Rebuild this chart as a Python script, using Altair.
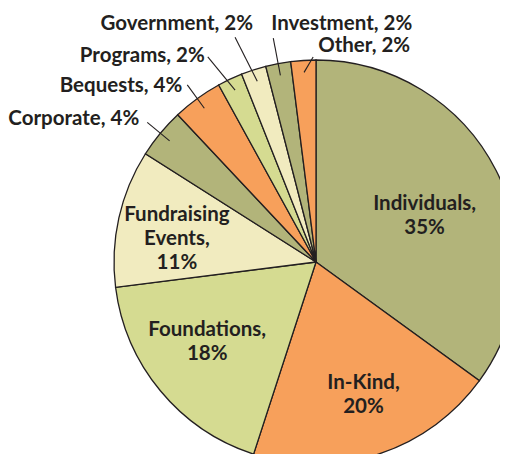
import altair as alt
import pandas as pd

# ---- data ----
categories = ["Individuals", "In-Kind", "Foundations", "Fundraising Events", "Corporate",
              "Bequests", "Programs", "Government", "Investment", "Other"]
values = [35, 20, 18, 11, 4, 4, 2, 2, 2, 2]
labels = ["Individuals,\n35%", "In-Kind,\n20%", "Foundations,\n18%", "Fundraising\nEvents,\n11%",
          "Corporate, 4%", "Bequests, 4%", "Programs, 2%", "Government, 2%", "Investment, 2%", "Other, 2%"]

# ---- style ----
OLIVE, ORANGE, GREEN, CREAM = "#b2b47a", "#f7a05b", "#d5db91", "#f1ebbf"
colors = [OLIVE, ORANGE, GREEN, CREAM, OLIVE, ORANGE, GREEN, CREAM, OLIVE, ORANGE]
INK = "#231f20"
FONT = "Lato"
FS = 20.5
LH = 24
R = 202
CX, CY = 308, 254
W, H = 492, 446

# inner labels: (radius, angle shift in degrees)
inner_layout = {
    "Individuals": (118, 4.0),
    "In-Kind": (141, -1.7),
    "Foundations": (135, 3.3),
    "Fundraising Events": (141, -3.2),
}
# outer labels: (leader end radius, angle shift, label dx, label dy, align)
outer_layout = {
    "Corporate": (219, 0.0, -8, -3, "right"),
    "Bequests": (219, 0.0, -5, 1, "right"),
    "Programs": (232, -2.6, -3, -1, "right"),
    "Government": (239, -1.8, 18, -13, "right"),
    "Investment": (228, 0.0, -2, -14, "left"),
    "Other": (205, 2.8, 5, -11, "left"),
}

rows = []
for i, (c, v, lab) in enumerate(zip(categories, values, labels)):
    row = dict(category=c, value=v, label=lab, order=i)
    if c in inner_layout:
        lr, dth = inner_layout[c]
        row.update(kind="inner", lr=lr, dth=dth, rout=0, ldx=0, ldy=0, align="center")
    else:
        rout, dth, ldx, ldy, al = outer_layout[c]
        row.update(kind="outer", lr=0, dth=dth, rout=rout, ldx=ldx, ldy=ldy, align=al)
    rows.append(row)
df = pd.DataFrame(rows)

xs = alt.Scale(domain=[-CX, W - CX], range=[0, W])
ys = alt.Scale(domain=[-CY, H - CY], reverse=True)

base = alt.Chart(df).transform_window(
    cum="sum(value)", sort=[alt.SortField("order")], frame=[None, 0]
).transform_joinaggregate(
    total="sum(value)"
).transform_calculate(
    mid="(datum.cum - datum.value/2)/datum.total*2*PI",
    a2="(datum.cum - datum.value/2)/datum.total*2*PI + datum.dth*PI/180",
)

arcs = alt.Chart(df).mark_arc(
    radius=R, stroke=INK, strokeWidth=1.3, clip=True
).encode(
    theta=alt.Theta("value:Q", stack=True),
    order=alt.Order("order:Q"),
    color=alt.Color("category:N", scale=alt.Scale(domain=categories, range=colors), legend=None),
    x=alt.value(CX),
    y=alt.value(CY),
)

inner = base.transform_filter("datum.kind == 'inner'").transform_calculate(
    px="datum.lr*sin(datum.a2)",
    py=f"-datum.lr*cos(datum.a2) - (split(datum.label, '\\n').length - 1)*{LH}/2",
).mark_text(
    font=FONT, fontSize=FS, fontWeight="bold", color=INK, lineBreak="\n",
    lineHeight=LH, align="center", baseline="middle"
).encode(
    x=alt.X("px:Q", scale=xs, axis=None),
    y=alt.Y("py:Q", scale=ys, axis=None),
    text="label:N",
)

outer = base.transform_filter("datum.kind == 'outer'").transform_calculate(
    x0="190*sin(datum.mid)", y0="-190*cos(datum.mid)",
    x1="datum.rout*sin(datum.a2)", y1="-datum.rout*cos(datum.a2)",
).transform_calculate(
    tx="datum.x1 + datum.ldx", ty="datum.y1 + datum.ldy"
)

leaders = outer.mark_rule(stroke=INK, strokeWidth=1.1).encode(
    x=alt.X("x0:Q", scale=xs, axis=None),
    y=alt.Y("y0:Q", scale=ys, axis=None),
    x2="x1:Q",
    y2="y1:Q",
)

def outer_text(al):
    return outer.transform_filter(f"datum.align == '{al}'").mark_text(
        font=FONT, fontSize=FS, fontWeight="bold", color=INK, align=al, baseline="middle"
    ).encode(
        x=alt.X("tx:Q", scale=xs, axis=None),
        y=alt.Y("ty:Q", scale=ys, axis=None),
        text="label:N",
    )

chart = alt.layer(arcs, leaders, inner, outer_text("right"), outer_text("left")).properties(
    width=W, height=H, padding=0, autosize=alt.AutoSizeParams(type="none")
).configure_view(stroke=None)

chart.save("out.html", embed_options={"renderer": "svg", "actions": False})
